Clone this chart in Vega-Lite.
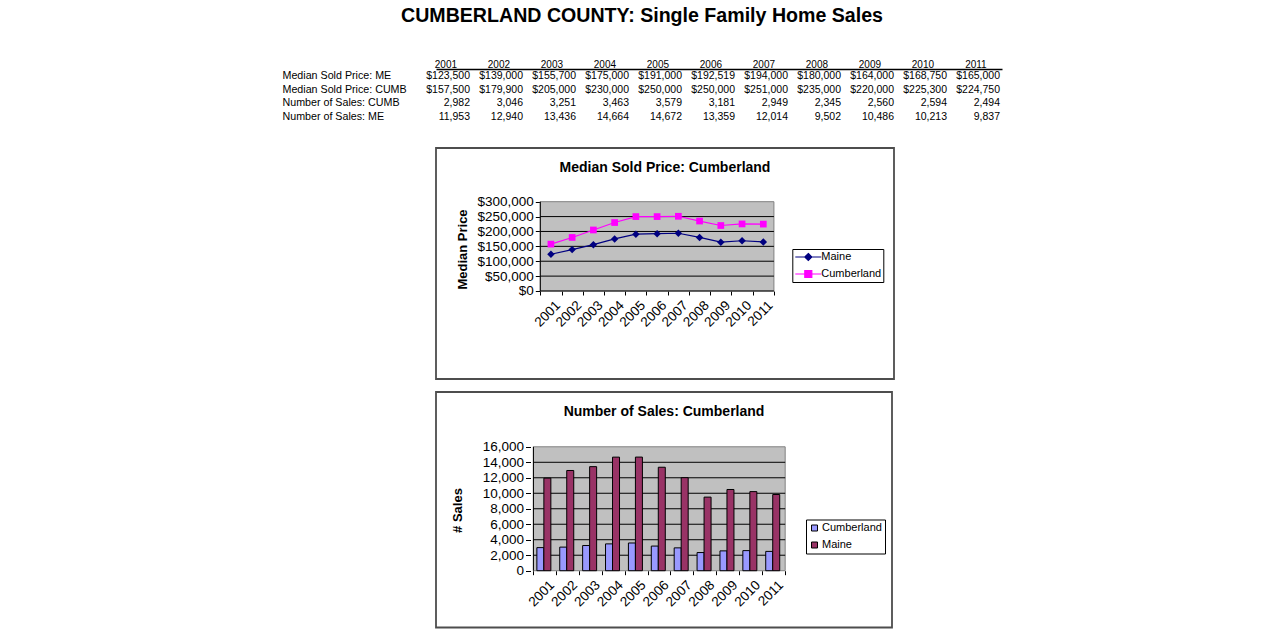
{
  "$schema": "https://vega.github.io/schema/vega-lite/v6.json",
  "padding": {"left": 282, "top": 6, "right": 5, "bottom": 5},
  "autosize": {"type": "pad"},
  "title": {
    "text": "CUMBERLAND COUNTY: Single Family Home Sales",
    "fontSize": 19.6,
    "fontWeight": "bold",
    "color": "black",
    "anchor": "middle",
    "frame": "bounds",
    "offset": 32
  },
  "datasets": {
    "homes": [
      {"year": 2001, "Median Sold Price: ME": 123500, "Median Sold Price: CUMB": 157500, "Number of Sales: CUMB": 2982, "Number of Sales: ME": 11953},
      {"year": 2002, "Median Sold Price: ME": 139000, "Median Sold Price: CUMB": 179900, "Number of Sales: CUMB": 3046, "Number of Sales: ME": 12940},
      {"year": 2003, "Median Sold Price: ME": 155700, "Median Sold Price: CUMB": 205000, "Number of Sales: CUMB": 3251, "Number of Sales: ME": 13436},
      {"year": 2004, "Median Sold Price: ME": 175000, "Median Sold Price: CUMB": 230000, "Number of Sales: CUMB": 3463, "Number of Sales: ME": 14664},
      {"year": 2005, "Median Sold Price: ME": 191000, "Median Sold Price: CUMB": 250000, "Number of Sales: CUMB": 3579, "Number of Sales: ME": 14672},
      {"year": 2006, "Median Sold Price: ME": 192519, "Median Sold Price: CUMB": 250000, "Number of Sales: CUMB": 3181, "Number of Sales: ME": 13359},
      {"year": 2007, "Median Sold Price: ME": 194000, "Median Sold Price: CUMB": 251000, "Number of Sales: CUMB": 2949, "Number of Sales: ME": 12014},
      {"year": 2008, "Median Sold Price: ME": 180000, "Median Sold Price: CUMB": 235000, "Number of Sales: CUMB": 2345, "Number of Sales: ME": 9502},
      {"year": 2009, "Median Sold Price: ME": 164000, "Median Sold Price: CUMB": 220000, "Number of Sales: CUMB": 2560, "Number of Sales: ME": 10486},
      {"year": 2010, "Median Sold Price: ME": 168750, "Median Sold Price: CUMB": 225300, "Number of Sales: CUMB": 2594, "Number of Sales: ME": 10213},
      {"year": 2011, "Median Sold Price: ME": 165000, "Median Sold Price: CUMB": 224750, "Number of Sales: CUMB": 2494, "Number of Sales: ME": 9837}
    ],
    "priceGrid": [{"v": 50000}, {"v": 100000}, {"v": 150000}, {"v": 200000}, {"v": 250000}],
    "salesGrid": [{"v": 2000}, {"v": 4000}, {"v": 6000}, {"v": 8000}, {"v": 10000}, {"v": 12000}, {"v": 14000}],
    "one": [{}]
  },
  "bounds": "flush",
  "spacing": 13,
  "resolve": {
    "scale": {"x": "independent", "y": "independent", "color": "independent"},
    "axis": {"x": "independent", "y": "independent"},
    "legend": {"color": "independent"}
  },
  "vconcat": [
    {
      "width": 566,
      "height": 65.5,
      "view": {"stroke": null},
      "data": {"name": "homes"},
      "transform": [
        {"fold": ["Median Sold Price: ME", "Median Sold Price: CUMB", "Number of Sales: CUMB", "Number of Sales: ME"], "as": ["row", "value"]}
      ],
      "encoding": {
        "x": {
          "field": "year",
          "type": "quantitative",
          "scale": {"domain": [2000.3585, 2011.0377], "nice": false, "zero": false},
          "axis": {
            "orient": "top",
            "values": [2001, 2002, 2003, 2004, 2005, 2006, 2007, 2008, 2009, 2010, 2011],
            "tickCount": 40,
            "format": "d",
            "labelOffset": -24.6,
            "ticks": false,
            "grid": false,
            "domain": true,
            "domainColor": "black",
            "domainWidth": 1.5,
            "labelFontSize": 10,
            "labelPadding": 2,
            "labelBaseline": "alphabetic",
            "labelFlush": false,
            "title": null
          }
        },
        "y": {
          "field": "row",
          "type": "nominal",
          "sort": ["Median Sold Price: ME", "Median Sold Price: CUMB", "Number of Sales: CUMB", "Number of Sales: ME"],
          "scale": {"type": "band", "paddingInner": 0, "paddingOuter": 0.396, "align": 0},
          "axis": {
            "labelAlign": "left",
            "labelPadding": 154,
            "ticks": false,
            "domain": false,
            "grid": false,
            "labelFontSize": 10.7,
            "labelLimit": 300,
            "title": null
          }
        }
      },
      "layer": [
        {
          "transform": [{"filter": {"field": "row", "oneOf": ["Median Sold Price: ME", "Median Sold Price: CUMB"]}}],
          "mark": {"type": "text", "align": "right", "baseline": "middle", "fontSize": 10.5, "color": "black"},
          "encoding": {"text": {"field": "value", "type": "quantitative", "format": "$,.0f"}}
        },
        {
          "transform": [{"filter": {"field": "row", "oneOf": ["Number of Sales: CUMB", "Number of Sales: ME"]}}],
          "mark": {"type": "text", "align": "right", "baseline": "middle", "fontSize": 10.5, "color": "black"},
          "encoding": {"text": {"field": "value", "type": "quantitative", "format": ",.0f"}}
        }
      ]
    },
    {
      "width": 458,
      "height": 231,
      "view": {"stroke": "#4d4d4d", "strokeWidth": 1.8, "fill": "white"},
      "title": {
        "text": "Median Sold Price: Cumberland",
        "fontSize": 14,
        "fontWeight": "bold",
        "color": "black",
        "anchor": "middle",
        "frame": "group",
        "baseline": "alphabetic",
        "offset": -38
      },
      "layer": [
        {
          "data": {"name": "one"},
          "mark": {"type": "rect", "fill": "#c0c0c0", "stroke": "#808080", "strokeWidth": 1},
          "encoding": {
            "x": {
              "datum": 2000.5,
              "type": "quantitative",
              "scale": {"domain": [1995.589, 2017.154], "nice": false, "zero": false},
              "axis": {
                "orient": "bottom",
                "offset": -88,
                "values": [2001, 2002, 2003, 2004, 2005, 2006, 2007, 2008, 2009, 2010, 2011, 2012],
                "tickCount": 40,
                "labelExpr": "datum.value > 2011 ? '' : datum.label",
                "format": "d",
                "labelAngle": -45,
                "labelFontSize": 13.5,
                "labelPadding": 3,
                "labelFlush": false,
                "labelOverlap": false,
                "ticks": true,
                "tickSize": 4,
                "tickOffset": -10.62,
                "labelOffset": 12.6,
                "domain": false,
                "grid": false,
                "title": null
              }
            },
            "x2": {"datum": 2011.5},
            "y": {
              "datum": 0,
              "type": "quantitative",
              "scale": {"domain": [-295634, 480405], "nice": false, "zero": false},
              "axis": {
                "orient": "left",
                "offset": -104.3,
                "values": [0, 50000, 100000, 150000, 200000, 250000, 300000],
                "tickCount": 40,
                "format": "$,.0f",
                "labelFontSize": 13.5,
                "labelPadding": 2,
                "labelOverlap": false,
                "tickSize": 5,
                "domain": false,
                "grid": false,
                "labelFlush": false,
                "title": "Median Price",
                "titleFontSize": 13,
                "titleFontWeight": "bold",
                "titleAngle": -90,
                "titleAlign": "center",
                "titleBaseline": "alphabetic",
                "titleX": -74.3,
                "titleY": 101
              }
            },
            "y2": {"datum": 300000}
          }
        },
        {
          "data": {"name": "priceGrid"},
          "mark": {"type": "rule", "color": "black", "strokeWidth": 1},
          "encoding": {
            "x": {"datum": 2000.5, "type": "quantitative", "scale": {"domain": [1995.589, 2017.154], "nice": false, "zero": false}},
            "x2": {"datum": 2011.5},
            "y": {"field": "v", "type": "quantitative", "scale": {"domain": [-295634, 480405], "nice": false, "zero": false}}
          }
        },
        {
          "data": {"name": "one"},
          "mark": {"type": "rule", "color": "black", "strokeWidth": 1},
          "encoding": {
            "x": {"datum": 2000.5, "type": "quantitative", "scale": {"domain": [1995.589, 2017.154], "nice": false, "zero": false}},
            "y": {"datum": 0, "type": "quantitative", "scale": {"domain": [-295634, 480405], "nice": false, "zero": false}},
            "y2": {"datum": 300000}
          }
        },
        {
          "data": {"name": "one"},
          "mark": {"type": "rule", "color": "black", "strokeWidth": 1},
          "encoding": {
            "x": {"datum": 2000.5, "type": "quantitative", "scale": {"domain": [1995.589, 2017.154], "nice": false, "zero": false}},
            "x2": {"datum": 2011.5},
            "y": {"datum": 0, "type": "quantitative", "scale": {"domain": [-295634, 480405], "nice": false, "zero": false}}
          }
        },
        {
          "data": {"name": "homes"},
          "transform": [{"fold": ["Median Sold Price: ME", "Median Sold Price: CUMB"], "as": ["row", "value"]}],
          "mark": {"type": "line", "strokeWidth": 1.2},
          "encoding": {
            "x": {"field": "year", "type": "quantitative", "scale": {"domain": [1995.589, 2017.154], "nice": false, "zero": false}},
            "y": {"field": "value", "type": "quantitative", "scale": {"domain": [-295634, 480405], "nice": false, "zero": false}},
            "color": {
              "field": "row",
              "type": "nominal",
              "scale": {"domain": ["Median Sold Price: ME", "Median Sold Price: CUMB"], "range": ["#000080", "#ff00ff"]},
              "legend": {
                "orient": "none",
                "legendX": 356.3,
                "legendY": 101,
                "title": null,
                "strokeColor": "black",
                "fillColor": "white",
                "padding": 2,
                "labelFontSize": 11,
                "labelColor": "black",
                "labelExpr": "datum.value == 'Median Sold Price: ME' ? 'Maine' : 'Cumberland'",
                "symbolSize": 100,
                "symbolOffset": 8,
                "labelOffset": 7,
                "rowPadding": 5,
                "encode": {
                  "symbols": {
                    "update": {
                      "shape": {"signal": "datum.value == 'Median Sold Price: ME' ? 'M-2.6,0H2.6M0,-0.7L0.7,0L0,0.7L-0.7,0Z' : 'M-2.6,0H2.6M-0.7,-0.7H0.7V0.7H-0.7Z'"},
                      "fill": {"signal": "datum.value == 'Median Sold Price: ME' ? '#000080' : '#ff00ff'"},
                      "stroke": {"signal": "datum.value == 'Median Sold Price: ME' ? '#000080' : '#ff00ff'"},
                      "strokeWidth": {"value": 1.2},
                      "opacity": {"value": 1}
                    }
                  }
                }
              }
            }
          }
        },
        {
          "data": {"name": "homes"},
          "mark": {"type": "point", "shape": "diamond", "filled": true, "size": 56, "color": "#000080", "opacity": 1},
          "encoding": {
            "x": {"field": "year", "type": "quantitative", "scale": {"domain": [1995.589, 2017.154], "nice": false, "zero": false}},
            "y": {"field": "Median Sold Price: ME", "type": "quantitative", "scale": {"domain": [-295634, 480405], "nice": false, "zero": false}}
          }
        },
        {
          "data": {"name": "homes"},
          "mark": {"type": "point", "shape": "square", "filled": true, "size": 45, "color": "#ff00ff", "opacity": 1},
          "encoding": {
            "x": {"field": "year", "type": "quantitative", "scale": {"domain": [1995.589, 2017.154], "nice": false, "zero": false}},
            "y": {"field": "Median Sold Price: CUMB", "type": "quantitative", "scale": {"domain": [-295634, 480405], "nice": false, "zero": false}}
          }
        }
      ]
    },
    {
      "width": 456,
      "height": 235.5,
      "view": {"stroke": "#4d4d4d", "strokeWidth": 1.8, "fill": "white"},
      "title": {
        "text": "Number of Sales: Cumberland",
        "fontSize": 14,
        "fontWeight": "bold",
        "color": "black",
        "anchor": "middle",
        "frame": "group",
        "baseline": "alphabetic",
        "offset": -37.5
      },
      "layer": [
        {
          "data": {"name": "one"},
          "mark": {"type": "rect", "fill": "#c0c0c0", "stroke": "#808080", "strokeWidth": 1},
          "encoding": {
            "x": {
              "datum": 2000.5,
              "type": "quantitative",
              "scale": {"domain": [1996.462, 2015.949], "nice": false, "zero": false},
              "axis": {
                "orient": "bottom",
                "offset": -56.8,
                "values": [2001, 2002, 2003, 2004, 2005, 2006, 2007, 2008, 2009, 2010, 2011, 2012],
                "tickCount": 40,
                "labelExpr": "datum.value > 2011 ? '' : datum.label",
                "format": "d",
                "labelAngle": -45,
                "labelFontSize": 13.5,
                "labelPadding": 3,
                "labelFlush": false,
                "labelOverlap": false,
                "ticks": true,
                "tickSize": 4,
                "tickOffset": -11.7,
                "labelOffset": 13.7,
                "domain": false,
                "grid": false,
                "title": null
              }
            },
            "x2": {"datum": 2011.5},
            "y": {
              "datum": 0,
              "type": "quantitative",
              "scale": {"domain": [-7333, 23075], "nice": false, "zero": false},
              "axis": {
                "orient": "left",
                "offset": -94.5,
                "values": [0, 2000, 4000, 6000, 8000, 10000, 12000, 14000, 16000],
                "tickCount": 40,
                "format": ",.0f",
                "labelFontSize": 13.5,
                "labelPadding": 2,
                "labelOverlap": false,
                "tickSize": 5,
                "domain": false,
                "grid": false,
                "labelFlush": false,
                "title": "# Sales",
                "titleFontSize": 13,
                "titleFontWeight": "bold",
                "titleAngle": -90,
                "titleAlign": "center",
                "titleBaseline": "alphabetic",
                "titleX": -69,
                "titleY": 118
              }
            },
            "y2": {"datum": 16000}
          }
        },
        {
          "data": {"name": "salesGrid"},
          "mark": {"type": "rule", "color": "black", "strokeWidth": 1},
          "encoding": {
            "x": {"datum": 2000.5, "type": "quantitative", "scale": {"domain": [1996.462, 2015.949], "nice": false, "zero": false}},
            "x2": {"datum": 2011.5},
            "y": {"field": "v", "type": "quantitative", "scale": {"domain": [-7333, 23075], "nice": false, "zero": false}}
          }
        },
        {
          "data": {"name": "one"},
          "mark": {"type": "rule", "color": "black", "strokeWidth": 1},
          "encoding": {
            "x": {"datum": 2000.5, "type": "quantitative", "scale": {"domain": [1996.462, 2015.949], "nice": false, "zero": false}},
            "y": {"datum": 0, "type": "quantitative", "scale": {"domain": [-7333, 23075], "nice": false, "zero": false}},
            "y2": {"datum": 16000}
          }
        },
        {
          "data": {"name": "homes"},
          "transform": [{"fold": ["Number of Sales: CUMB", "Number of Sales: ME"], "as": ["row", "value"]}, {"filter": {"field": "row", "equal": "Number of Sales: CUMB"}}],
          "mark": {"type": "bar", "width": 7, "xOffset": -4.5, "stroke": "black", "strokeWidth": 1, "opacity": 1},
          "encoding": {
            "x": {"field": "year", "type": "quantitative", "scale": {"domain": [1996.462, 2015.949], "nice": false, "zero": false}},
            "y": {"field": "value", "type": "quantitative", "scale": {"domain": [-7333, 23075], "nice": false, "zero": false}},
            "y2": {"datum": 0},
            "color": {
              "field": "row",
              "type": "nominal",
              "scale": {"domain": ["Number of Sales: CUMB", "Number of Sales: ME"], "range": ["#9999ff", "#993366"]},
              "legend": {
                "orient": "none",
                "legendX": 370,
                "legendY": 127.5,
                "title": null,
                "strokeColor": "black",
                "fillColor": "white",
                "padding": 3,
                "labelFontSize": 11,
                "labelColor": "black",
                "labelExpr": "datum.value == 'Number of Sales: CUMB' ? 'Cumberland' : 'Maine'",
                "symbolType": "square",
                "symbolSize": 36,
                "symbolStrokeColor": "black",
                "symbolStrokeWidth": 1,
                "labelOffset": 2,
                "rowPadding": 5
              }
            }
          }
        },
        {
          "data": {"name": "homes"},
          "transform": [{"fold": ["Number of Sales: CUMB", "Number of Sales: ME"], "as": ["row", "value"]}, {"filter": {"field": "row", "equal": "Number of Sales: ME"}}],
          "mark": {"type": "bar", "width": 7, "xOffset": 2.5, "stroke": "black", "strokeWidth": 1, "opacity": 1},
          "encoding": {
            "x": {"field": "year", "type": "quantitative", "scale": {"domain": [1996.462, 2015.949], "nice": false, "zero": false}},
            "y": {"field": "value", "type": "quantitative", "scale": {"domain": [-7333, 23075], "nice": false, "zero": false}},
            "y2": {"datum": 0},
            "color": {"field": "row", "type": "nominal", "scale": {"domain": ["Number of Sales: CUMB", "Number of Sales: ME"], "range": ["#9999ff", "#993366"]}}
          }
        }
      ]
    }
  ],
  "config": {
    "font": "Liberation Sans",
    "axis": {"labelColor": "black", "tickColor": "black", "titleColor": "black", "labelFont": "Liberation Sans", "titleFont": "Liberation Sans", "labelOverlap": false},
    "legend": {"labelFont": "Liberation Sans", "labelColor": "black"},
    "title": {"font": "Liberation Sans", "color": "black"},
    "text": {"font": "Liberation Sans", "color": "black"}
  }
}
